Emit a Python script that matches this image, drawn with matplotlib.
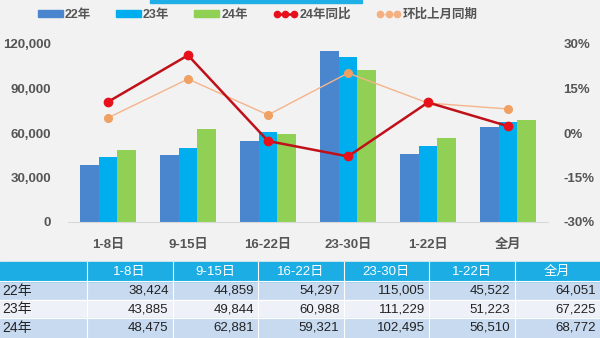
import matplotlib.pyplot as plt
import numpy as np
from matplotlib.patches import Rectangle
from matplotlib.lines import Line2D
from matplotlib.ticker import FuncFormatter

plt.rcParams['font.family'] = ['Liberation Sans', 'Noto Sans CJK SC', 'DejaVu Sans']

categories = ['1-8日', '9-15日', '16-22日', '23-30日', '1-22日', '全月']
sales_22 = [38424, 44859, 54297, 115005, 45522, 64051]
sales_23 = [43885, 49844, 60988, 111229, 51223, 67225]
sales_24 = [48475, 62881, 59321, 102495, 56510, 68772]
yoy_24 = [10.5, 26.2, -2.7, -7.9, 10.3, 2.3]        # 24年同比 (%)
mom_same = [5.1, 18.2, 6.1, 20.2, 10.1, 8.1]       # 环比上月同期 (%)
series_names = ['22年', '23年', '24年']

c22 = '#4A86CD'
c23 = '#00AEEF'
c24 = '#8FD055'
c_orange = '#F5B48A'
txt = '#555555'
bg = '#F2F2F2'

fig = plt.figure(figsize=(6, 3.38), dpi=100, facecolor=bg)

# chart
ax = fig.add_axes([68 / 600, (338 - 222) / 338, 480 / 600, 178 / 338])
ax.set_facecolor(bg)
x = np.arange(len(categories))
w = 0.235
ax.bar(x - w, sales_22, w, color=c22)
ax.bar(x, sales_23, w, color=c23)
ax.bar(x + w, sales_24, w, color=c24)
ax.set_xlim(-0.5, len(categories) - 0.5)
ax.set_ylim(0, 120000)
ax.set_yticks([0, 30000, 60000, 90000, 120000])
ax.yaxis.set_major_formatter(FuncFormatter(lambda v, p: f'{int(v):,}'))
ax.set_xticks(x)
ax.set_xticklabels(categories)
for s in ['top', 'right', 'left']:
    ax.spines[s].set_visible(False)
ax.spines['bottom'].set_color('#D9D9D9')
ax.tick_params(axis='both', length=0, labelsize=9.5, labelcolor=txt)
ax.tick_params(axis='y', pad=12)
ax.tick_params(axis='x', pad=12)
for lab in ax.get_xticklabels() + ax.get_yticklabels():
    lab.set_fontweight('bold')

ax2 = ax.twinx()
ax2.plot(x, mom_same, color=c_orange, lw=1, marker='o', ms=5.5,
         mfc='#F0A060', mec='#F0A060', zorder=3)
ax2.plot(x, yoy_24, color='#C0101A', lw=1.8, marker='o', ms=6,
         mfc='#E8101A', mec='#E8101A', zorder=4)
ax2.set_ylim(-30, 30)
ax2.set_yticks([-30, -15, 0, 15, 30])
ax2.yaxis.set_major_formatter(FuncFormatter(lambda v, p: f'{int(v)}%'))
for s in ['top', 'right', 'left', 'bottom']:
    ax2.spines[s].set_visible(False)
ax2.tick_params(axis='y', length=0, labelsize=9.5, labelcolor=txt, pad=11)
for lab in ax2.get_yticklabels():
    lab.set_fontweight('bold')

# legend
handles = [
    Rectangle((0, 0), 1, 1, color=c22),
    Rectangle((0, 0), 1, 1, color=c23),
    Rectangle((0, 0), 1, 1, color=c24),
    Line2D([], [], color='#C0101A', lw=1.8, marker='o', ms=4.5, mfc='#E8101A', mec='#E8101A'),
    Line2D([], [], color='#F8CCAA', lw=1, marker='o', ms=4.5, mfc='#F4B080', mec='#F4B080'),
]
labels = series_names + ['24年同比', '环比上月同期']
leg = fig.legend(handles, labels, loc='center', bbox_to_anchor=(0.43, 1 - 15 / 338), ncol=5,
                 frameon=False, fontsize=9, handlelength=2.0, handleheight=0.5,
                 handletextpad=0.15, columnspacing=2.0, numpoints=3)
for t in leg.get_texts():
    t.set_color(txt)
    t.set_fontweight('bold')

# overlay for top strip and table
ov = fig.add_axes([0, 0, 1, 1], zorder=-1)
ov.set_xlim(0, 600)
ov.set_ylim(338, 0)
ov.axis('off')
ov.add_patch(Rectangle((150, 0), 212, 2.5, color='#1FAEE6'))

head_c = '#1CADE4'
row_cs = ['#C7DAF0', '#EEF2F8', '#C7DAF0']
col0 = 87
colw = (600 - col0) / len(categories)
y0 = 262
hh = 19
rh = 18.6
ov.add_patch(Rectangle((0, y0), 600, hh, color=head_c))
for j, c in enumerate(categories):
    cx = col0 + j * colw
    ov.plot([cx, cx], [y0, 338], color='white', lw=0.8)
    ov.text(cx + colw / 2, y0 + hh / 2 + 0.5, c, color='white', fontsize=9.5,
            ha='center', va='center')
rows = [sales_22, sales_23, sales_24]
for i, (name, vals) in enumerate(zip(series_names, rows)):
    ry = y0 + hh + i * rh
    ov.add_patch(Rectangle((0, ry), 600, rh, color=row_cs[i], zorder=0))
    ov.plot([0, 600], [ry, ry], color='white', lw=0.8)
    ov.text(2, ry + rh / 2 + 0.5, name, color='#222222', fontsize=10, ha='left', va='center')
    for j, v in enumerate(vals):
        ov.text(col0 + (j + 1) * colw - 4, ry + rh / 2 + 0.5, f'{v:,}', color='#222222',
                fontsize=9.5, ha='right', va='center')

fig.savefig('out.png', dpi=100, facecolor=bg)
